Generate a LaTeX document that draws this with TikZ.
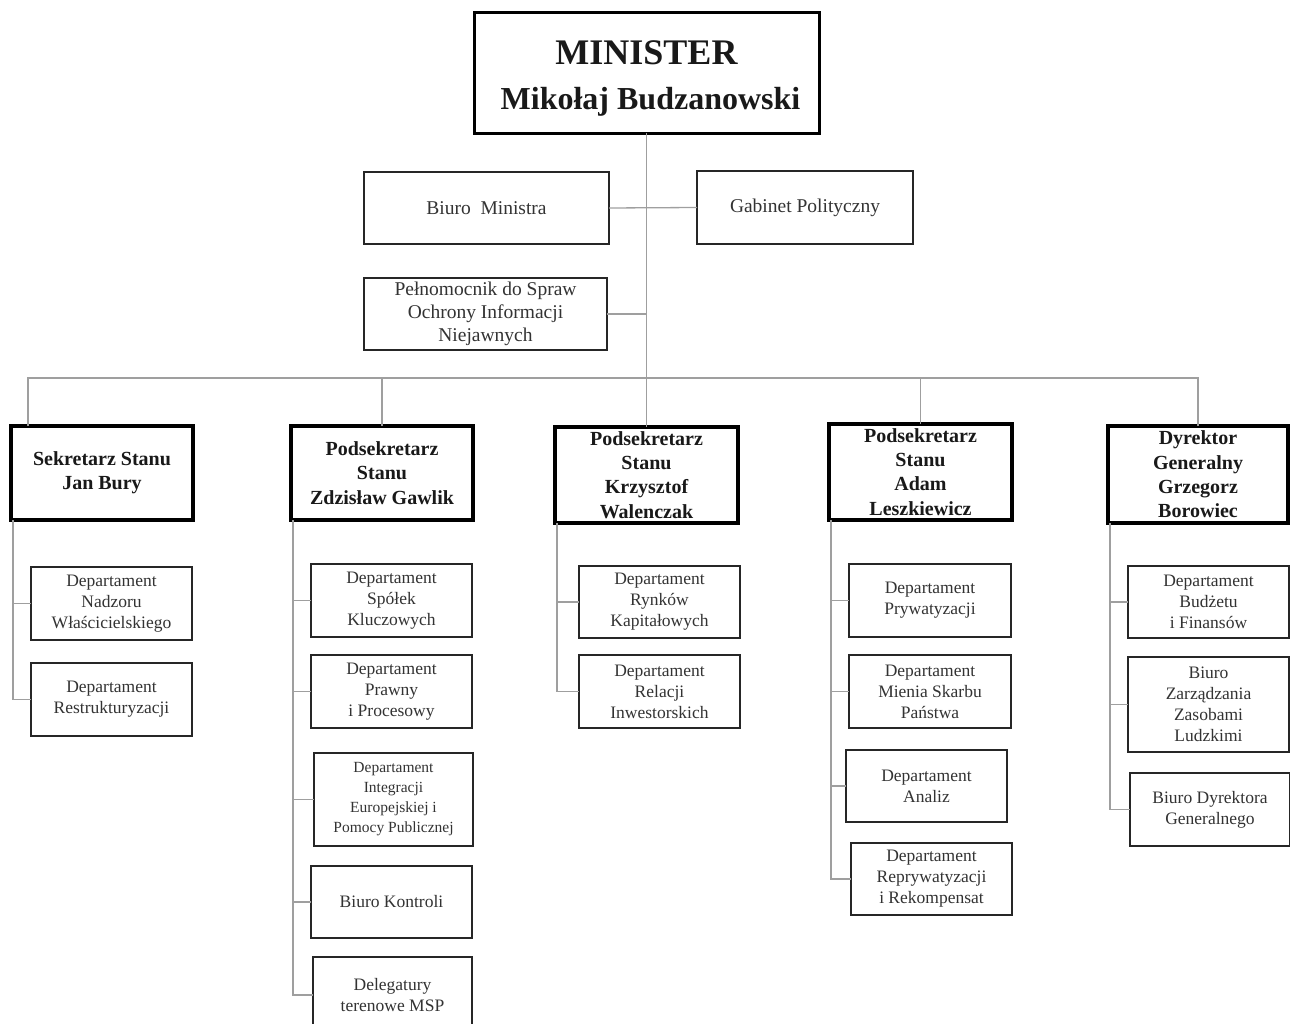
\documentclass[tikz,border=0pt]{standalone}
\usepackage{fontspec}
\setmainfont{Liberation Serif}
\usepackage{tikz}
\usetikzlibrary{positioning,calc}
\tikzset{
    % Define connector style
    link/.style={
           draw=gray!75,
           line width=1.3pt}
}
\newcommand{\deptfont}{\fontsize{17.5}{21}\selectfont}
\newcommand{\smallfont}{\fontsize{15.5}{20}\selectfont}
\newcommand{\topfont}{\fontsize{19.5}{23}\selectfont}
\newcommand{\leadfont}{\fontsize{20}{24.3}\selectfont\bfseries}
\newcommand{\ministerfont}{\fontsize{36}{45}\selectfont\bfseries}

\begin{document}
\begin{tikzpicture}[x=1pt, y=-1pt, outer sep = 0pt]
\tikzstyle{deptbox}=[draw=black!85, fill=white, rectangle, line width=1.4pt, inner sep=0pt,
    minimum width=161pt, minimum height=73pt, align=center, text=black!80, font=\deptfont]
%
\tikzstyle{topbox}=[deptbox, font=\topfont]
%
\tikzstyle{leadbox}=[draw=black, fill=white, rectangle, line width=4pt, inner sep=0pt,
    minimum width=182pt, minimum height=94pt, align=center, text=black!90, font=\leadfont]
%
\tikzstyle{ministerbox}=[leadbox, line width=3pt, minimum width=345pt, minimum height=121pt,
    font=\ministerfont]

\useasboundingbox (0,0) rectangle (1290,1024);
\clip (0,0) rectangle (1290,1024);

% top level
\node[ministerbox] (min) at (646.5,73) {\rule{0pt}{35pt}MINISTER\\
    \fontsize{32}{45}\selectfont\ Mikołaj Budzanowski};
\node[topbox, minimum width=245pt, minimum height=72pt] (biuro) at (486.5,208) {Biuro\ \ Ministra};
\node[topbox, minimum width=216pt] (gab) at (805,207.5) {Gabinet Polityczny};
\node[topbox, minimum width=243pt, minimum height=72pt] (peln) at (485.5,314)
    {Pełnomocnik do Spraw\\ Ochrony Informacji\\ Niejawnych};

% secretaries
\node[leadbox] (sek) at (102,473) {Sekretarz Stanu\\ Jan Bury};
\node[leadbox] (gaw) at (382,473) {Podsekretarz\\ Stanu\\ Zdzisław Gawlik};
\node[leadbox, minimum width=183pt, minimum height=96pt] (krz) at (646.5,475)
    {Podsekretarz\\ Stanu\\ Krzysztof\\ Walenczak};
\node[leadbox, minimum width=183pt, minimum height=96pt] (ada) at (920.5,472)
    {Podsekretarz\\ Stanu\\ Adam\\ Leszkiewicz};
\node[leadbox, minimum width=180pt, minimum height=97pt] (dyr) at (1198,474.5)
    {Dyrektor\\ Generalny\\ Grzegorz\\ Borowiec};

% departments
\node[deptbox] (nad) at (111.5,603.5) {Departament\\ Nadzoru\\ Właścicielskiego};
\node[deptbox] (res) at (111.5,699.5) {Departament\\ Restrukturyzacji};

\node[deptbox] (spo) at (391.5,600.5) {Departament\\ Spółek\\ Kluczowych};
\node[deptbox] (pra) at (391.5,691.5) {Departament\\ Prawny\\ i Procesowy};
\node[deptbox, minimum width=159pt, minimum height=93pt, font=\smallfont] (integ) at (393.5,799.5)
    {Departament\\ Integracji\\ Europejskiej i\\ Pomocy Publicznej};
\node[deptbox, minimum height=72pt] (kon) at (391.5,902) {Biuro Kontroli};
\node[deptbox, minimum width=159pt, minimum height=76pt] (del) at (392.5,995)
    {Delegatury\\ terenowe MSP};

\node[deptbox, minimum height=72pt] (ryn) at (659.5,602) {Departament\\ Rynków\\ Kapitałowych};
\node[deptbox] (rel) at (659.5,691.5) {Departament\\ Relacji\\ Inwestorskich};

\node[deptbox, minimum width=162pt] (pry) at (930,600.5) {Departament\\ Prywatyzacji};
\node[deptbox, minimum width=162pt] (mie) at (930,691.5) {Departament\\ Mienia Skarbu\\ Państwa};
\node[deptbox, minimum height=72pt] (ana) at (926.5,786) {Departament\\ Analiz};
\node[deptbox, minimum height=72pt] (rep) at (931.5,879) {Departament\\ Reprywatyzacji\\ i Rekompensat};

\node[deptbox, minimum height=72pt] (bud) at (1208.5,602) {Departament\\ Budżetu\\ i Finansów};
\node[deptbox, minimum height=95pt] (zar) at (1208.5,704.5) {Biuro\\ Zarządzania\\ Zasobami\\ Ludzkimi};
\node[deptbox, minimum width=160pt] (bdg) at (1210,809.5) {Biuro Dyrektora\\ Generalnego};

% connectors from the minister
\coordinate (bus) at (646.5,378);
\path[link] (min.south) edge (krz.north);
\path[link] (biuro.east) edge (gab.west);
\path[link] (peln.east) edge (peln.east -| min.south);
\draw[link] (bus) -| ([xshift=17pt]sek.north west);
\draw[link] (bus) -| (gaw.north);
\draw[link] (bus) -| (ada.north);
\draw[link] (bus) -| (dyr.north);

% connectors to the departments
\foreach \lead/\dept in {sek/nad, sek/res, gaw/spo, gaw/pra, gaw/integ, gaw/kon, gaw/del,
    krz/ryn, krz/rel, ada/pry, ada/mie, ada/ana, ada/rep, dyr/bud, dyr/zar, dyr/bdg}
    \draw[link] ([xshift=2pt]\lead.south west) |- (\dept.west);

\end{tikzpicture}
\end{document}
